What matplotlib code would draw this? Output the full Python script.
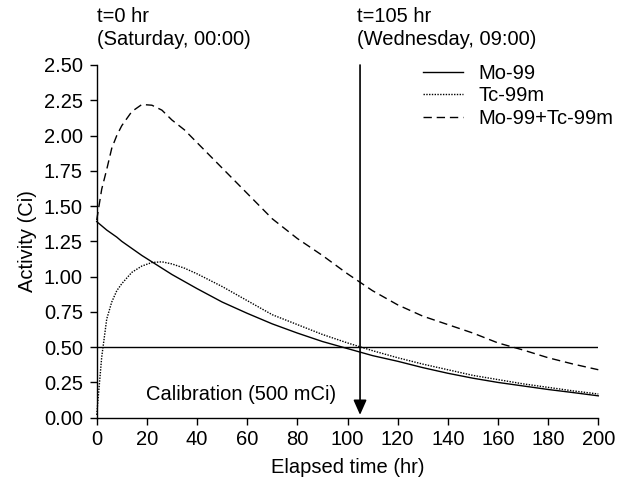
import matplotlib
matplotlib.use("Agg")
import matplotlib.pyplot as plt

plt.rcParams['font.family'] = ['Liberation Sans', 'DejaVu Sans']

# Data
time_hr = [0, 2, 4, 6, 8, 10, 14, 18, 22, 26, 30, 35, 40, 50, 60, 70, 80, 90,
           100, 110, 120, 130, 140, 150, 160, 170, 180, 190, 200]
mo99 = [1.39, 1.36, 1.33, 1.305, 1.28, 1.25, 1.20, 1.15, 1.105, 1.06, 1.015, 0.965,
        0.915, 0.82, 0.74, 0.665, 0.60, 0.54, 0.49, 0.44, 0.40, 0.355, 0.315, 0.28,
        0.25, 0.225, 0.20, 0.178, 0.155]
tc99m = [0.02, 0.43, 0.70, 0.82, 0.90, 0.95, 1.03, 1.075, 1.10, 1.105, 1.09, 1.06,
         1.02, 0.93, 0.83, 0.73, 0.66, 0.59, 0.53, 0.475, 0.425, 0.38, 0.34, 0.30,
         0.27, 0.24, 0.215, 0.19, 0.168]
total = [1.40, 1.62, 1.76, 1.91, 2.00, 2.07, 2.17, 2.22, 2.215, 2.18, 2.11, 2.04,
         1.95, 1.77, 1.59, 1.41, 1.27, 1.15, 1.02, 0.90, 0.80, 0.72, 0.66, 0.60,
         0.53, 0.48, 0.425, 0.38, 0.34]
series_labels = ['Mo-99', 'Tc-99m', 'Mo-99+Tc-99m']
calib_level = 0.5
calib_time = 105
x_ticks = [0, 20, 40, 60, 80, 100, 120, 140, 160, 180, 200]
y_ticks = [0.00, 0.25, 0.50, 0.75, 1.00, 1.25, 1.50, 1.75, 2.00, 2.25, 2.50]

FS = 14.5
W, H = 622, 486
fig = plt.figure(figsize=(W / 100, H / 100), dpi=100)
ax = fig.add_axes([96.7 / W, 1 - 417.7 / H, 501.6 / W, 352.7 / H])

ax.plot(time_hr, mo99, color='black', lw=1.0, label=series_labels[0], clip_on=False)
ax.plot(time_hr, tc99m, color='black', lw=1.0, linestyle=(0, (1, 1)),
        label=series_labels[1], clip_on=False)
ax.plot(time_hr, total, color='black', lw=1.0, linestyle=(0, (6, 3.5)),
        label=series_labels[2], clip_on=False)

ax.plot([x_ticks[0], x_ticks[-1]], [calib_level, calib_level], color='black', lw=1.0)

ax.annotate('', xy=(calib_time, 0.02), xytext=(calib_time, 2.5),
            arrowprops=dict(arrowstyle='-|>,head_length=0.9,head_width=0.4',
                            color='black', lw=1.2, shrinkA=0, shrinkB=0),
            annotation_clip=False)

ax.text(57.5, 0.165, 'Calibration (500 mCi)', ha='center', va='center', fontsize=FS)

ax.set_xlim(0, 200)
ax.set_ylim(0, 2.5)
ax.set_xticks(x_ticks)
ax.set_xticklabels([str(t) for t in x_ticks])
ax.set_yticks(y_ticks)
ax.set_yticklabels([f'{v:.2f}' for v in y_ticks])
for s in ['top', 'right']:
    ax.spines[s].set_visible(False)
for s in ['left', 'bottom']:
    ax.spines[s].set_linewidth(1.0)
ax.tick_params(axis='both', direction='out', length=5, width=1.0, labelsize=FS)
ax.tick_params(axis='x', pad=4)
ax.tick_params(axis='y', pad=5)

ax.set_xlabel('Elapsed time (hr)', fontsize=FS, labelpad=6)
ax.set_ylabel('Activity (Ci)', fontsize=FS, labelpad=5)

fig.text(97 / W, 1 - 7 / H, 't=0 hr\n(Saturday, 00:00)', ha='left', va='top',
         fontsize=FS, linespacing=1.26)
fig.text(357 / W, 1 - 7 / H, 't=105 hr\n(Wednesday, 09:00)', ha='left', va='top',
         fontsize=FS, linespacing=1.26)

leg = ax.legend(loc='upper left', bbox_to_anchor=(423 / W, 1 - 64 / H),
                bbox_transform=fig.transFigure, frameon=False, fontsize=FS,
                handlelength=2.0, handletextpad=0.75, labelspacing=0.17,
                borderpad=0, borderaxespad=0)

fig.savefig('out.png', dpi=100)
